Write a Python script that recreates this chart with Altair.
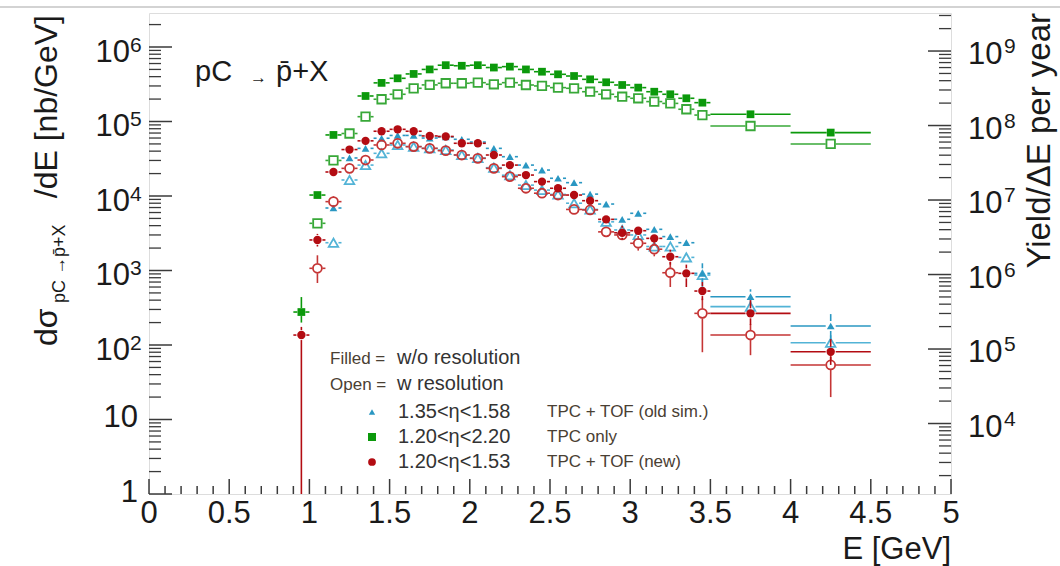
import altair as alt
import pandas as pd

# ---------------- data ----------------
E = [0.95, 1.05, 1.15, 1.25, 1.35, 1.45, 1.55, 1.65, 1.75, 1.85, 1.95, 2.05, 2.15, 2.25,
     2.35, 2.45, 2.55, 2.65, 2.75, 2.85, 2.95, 3.05, 3.15, 3.25, 3.35, 3.45, 3.75, 4.25]
HALF_WIDTH = [0.05] * 26 + [0.25, 0.25]

green_filled = [277, 1.03e4, 6.6e4, None, 2.2e5, 3.3e5, 3.8e5, 4.35e5, 5.0e5, 5.7e5, 5.6e5, 5.7e5,
                5.3e5, 5.45e5, 5.0e5, 4.66e5, 4.3e5, 4.08e5, 3.68e5, 3.36e5, 3.09e5, 2.85e5, 2.51e5,
                2.32e5, 2.05e5, 1.79e5, 1.25e5, 7.1e4]
green_open = [None, 4.3e3, 3.0e4, 6.9e4, 1.16e5, 1.99e5, 2.32e5, 2.79e5, 3.1e5, 3.26e5, 3.26e5,
              3.32e5, 3.16e5, 3.32e5, 3.09e5, 3.0e5, 2.85e5, 2.79e5, 2.51e5, 2.32e5, 2.15e5, 2.05e5,
              1.85e5, 1.75e5, 1.46e5, 1.22e5, 8.7e4, 5.0e4]
red_filled = [136, 2570, 2.1e4, 4.2e4, 5.5e4, 7.4e4, 7.85e4, 7.4e4, 6.4e4, 6.3e4, 5.1e4, 5.1e4,
              3.55e4, 2.6e4, 1.91e4, 1.56e4, 1.27e4, 1.03e4, 8.65e3, 4.86e3, 3.21e3, 3.42e3, 2.7e3,
              1.53e3, 916, 530, 266, 81]
red_open = [None, 1070, 8.4e3, 2.35e4, 3.04e4, 4.84e4, 5.1e4, 4.6e4, 4.36e4, 4.06e4, 3.55e4, 3.2e4,
            2.35e4, 1.82e4, 1.27e4, 1.09e4, 1.03e4, 6.6e3, 6.5e3, 3.3e3, 3.0e3, 2.32e3, 1.93e3, 933,
            None, 266, 136, 54]
cyan_filled = [None, None, 6.9e3, 3.24e4, 4.36e4, 5.96e4, 6.5e4, 6.5e4, 6.0e4, 6.2e4, 5.77e4, 5.3e4,
               4.36e4, 3.37e4, 2.6e4, 2.23e4, 1.73e4, 1.51e4, 1.06e4, 7.8e3, 4.87e3, 5.86e3, 3.57e3,
               2.85e3, 2.36e3, 916, 445, 180]
cyan_open = [None, None, 2.36e3, 1.64e4, 2.6e4, 3.74e4, 4.84e4, 4.6e4, 4.36e4, 4.14e4, 3.55e4, 3.24e4,
             2.4e4, 1.9e4, 1.4e4, 1.2e4, 1.05e4, 8.0e3, 6.6e3, 4.5e3, 3.5e3, 3.0e3, 2.1e3, 2.1e3,
             1.5e3, 870, 327, 107]

# visible vertical error bars: E -> (low, high)
green_filled_err = {0.95: (200, 440)}
green_open_err = {}
red_filled_err = {0.95: (1, 175), 1.05: (2100, 3100), 2.95: (2600, 4000), 3.25: (1200, 1900),
                  3.35: (600, 1200), 3.45: (400, 700), 3.75: (185, 400), 4.25: (54, 120)}
red_open_err = {1.05: (680, 1600), 1.15: (7000, 1.0e4), 3.05: (1850, 2900), 3.15: (1550, 2400),
                3.25: (600, 1300), 3.45: (80, 420), 3.75: (73, 190), 4.25: (20, 80)}
cyan_filled_err = {3.45: (700, 1250), 3.75: (370, 560), 4.25: (117, 260)}
cyan_open_err = {3.45: (600, 1000), 3.75: (260, 400), 4.25: (85, 135)}

LEFT_DECADES = [1, 10, 100, 1e3, 1e4, 1e5, 1e6]
LEFT_EXP = ["", "", "2", "3", "4", "5", "6"]
RIGHT_DECADES = [1e4, 1e5, 1e6, 1e7, 1e8, 1e9]
RIGHT_EXP = ["4", "5", "6", "7", "8", "9"]
X_LABELS = [0, 0.5, 1, 1.5, 2, 2.5, 3, 3.5, 4, 4.5, 5]

# ---------------- layout ----------------
W, H = 802, 481
Y_LEFT = [1, 2.86e6]
Y_RIGHT = [1132, 3.24e9]
FONT = "Liberation Sans"
INK = "#1a1a1a"
BROWN = "#4a4033"

XS = alt.Scale(domain=[0, 5])
YL = alt.Scale(type="log", domain=Y_LEFT)
YR = alt.Scale(type="log", domain=Y_RIGHT)


def xq(f):
    return alt.X(f"{f}:Q", scale=XS, axis=None)


def x2q(f):
    return alt.X2(f"{f}:Q")


def yq(f, sc=YL):
    return alt.Y(f"{f}:Q", scale=sc, axis=None)


def one():
    return alt.Chart(pd.DataFrame({"a": [0]}))


def text(t, x, y, size, color=INK, align="left", angle=0, baseline="middle"):
    return one().mark_text(text=t, fontSize=size, color=color, align=align, angle=angle,
                           baseline=baseline, font=FONT).encode(x=alt.value(x), y=alt.value(y))


series = [
    ("cyan_open", cyan_open, cyan_open_err, "#52b3d6", "triangle-up", False, 90, 5),
    ("cyan_filled", cyan_filled, cyan_filled_err, "#2a97c2", "triangle-up", True, 60, 5),
    ("green_open", green_open, green_open_err, "#38a838", "square", False, 72, 5),
    ("green_filled", green_filled, green_filled_err, "#0b990b", "square", True, 60, 4),
    ("red_open", red_open, red_open_err, "#c53535", "circle", False, 80, 5),
    ("red_filled", red_filled, red_filled_err, "#b30c12", "circle", True, 70, 5),
]

layers = []
# top grey line of the screenshot
layers.append(one().mark_rule(color="#c4c4c4", strokeWidth=1.5).encode(
    x=alt.value(-149), x2=alt.value(911), y=alt.value(-6)))

for name, vals, errs, color, shape, filled, size, gap in series:
    rows = []
    for e, hw, v in zip(E, HALF_WIDTH, vals):
        if v is None:
            continue
        lo, hi = errs.get(e, (None, None))
        rows.append({"E": e, "xlo": e - hw, "xhi": e + hw, "val": v, "lo": lo, "hi": hi})
    df = pd.DataFrame(rows)
    rule_kw = dict(color=color, strokeWidth=1.6, clip=True)
    base = alt.Chart(df)
    layers.append(base.mark_rule(x2Offset=-gap, **rule_kw).encode(x=xq("xlo"), x2=x2q("E"), y=yq("val")))
    layers.append(base.mark_rule(xOffset=gap, **rule_kw).encode(x=xq("E"), x2=x2q("xhi"), y=yq("val")))
    dfe = df.dropna(subset=["lo"])
    if len(dfe):
        be = alt.Chart(dfe)
        layers.append(be.mark_rule(y2Offset=-gap, **rule_kw).encode(
            x=xq("E"), y=yq("hi"), y2=alt.Y2("val:Q")))
        layers.append(be.mark_rule(yOffset=gap, **rule_kw).encode(
            x=xq("E"), y=yq("val"), y2=alt.Y2("lo:Q")))
    if filled:
        pt = base.mark_point(shape=shape, filled=True, size=size, color=color, opacity=1, clip=True)
    else:
        pt = base.mark_point(shape=shape, filled=False, size=size, color=color, strokeWidth=1.8,
                             opacity=1, clip=True)
    layers.append(pt.encode(x=xq("E"), y=yq("val")))

# ---- axis ticks (drawn inward, ROOT style) ----
tick_col = "#3a3a3a"
x_major = pd.DataFrame({"t": X_LABELS})
x_minor = pd.DataFrame({"t": [i / 10 for i in range(51) if i % 5 != 0]})
layers.append(alt.Chart(x_major).mark_rule(color=tick_col, strokeWidth=1.5).encode(
    x=xq("t"), y=alt.value(H), y2=alt.value(H - 15)))
layers.append(alt.Chart(x_minor).mark_rule(color=tick_col, strokeWidth=1.5).encode(
    x=xq("t"), y=alt.value(H), y2=alt.value(H - 8)))

l_major = pd.DataFrame({"t": LEFT_DECADES})
l_minor = pd.DataFrame({"t": [k * d for d in LEFT_DECADES for k in range(2, 10)
                              if k * d <= Y_LEFT[1]]})
layers.append(alt.Chart(l_major).mark_rule(color=tick_col, strokeWidth=1.5).encode(
    y=yq("t"), x=alt.value(0), x2=alt.value(23)))
layers.append(alt.Chart(l_minor).mark_rule(color=tick_col, strokeWidth=1.3).encode(
    y=yq("t"), x=alt.value(0), x2=alt.value(12)))

# ---- left tick labels ----
lab = pd.DataFrame({"t": LEFT_DECADES, "base": ["1", "10"] + ["10"] * 5, "sup": LEFT_EXP})
plain = lab[lab["sup"] == ""]
power = lab[lab["sup"] != ""]
layers.append(alt.Chart(plain).mark_text(align="right", baseline="middle", fontSize=31, font=FONT,
                                         color=INK, dy=-1).encode(
    y=yq("t"), x=alt.value(-11), text="base:N"))
layers.append(alt.Chart(power).mark_text(align="right", baseline="middle", fontSize=31, font=FONT,
                                         color=INK, dy=6).encode(
    y=yq("t"), x=alt.value(-19), text="base:N"))
layers.append(alt.Chart(power).mark_text(align="left", baseline="middle", fontSize=21, font=FONT,
                                         color=INK, dy=-1).encode(
    y=yq("t"), x=alt.value(-19), text="sup:N"))

# ---- x tick labels ----
xl = pd.DataFrame({"t": X_LABELS, "lab": [f"{v:g}" for v in X_LABELS]})
layers.append(alt.Chart(xl).mark_text(align="center", baseline="middle", fontSize=31, font=FONT,
                                      color=INK).encode(
    x=xq("t"), y=alt.value(H + 20), text="lab:N"))

# ---- titles & annotations ----
layers += [
    text("E [GeV]", W, 537, 31, align="right"),
    text("dσ", -92, 333, 32, angle=270, baseline="alphabetic"),
    text("pC →p̄+X", -84, 290, 18, angle=270, baseline="alphabetic"),
    text("/dE [nb/GeV]", -92, 2, 32, angle=270, align="right", baseline="alphabetic"),
    text("Yield/ΔE  per year", 901, 0, 33, angle=270, align="right", baseline="alphabetic"),
    text("pC", 46, 59, 29),
    text("→", 101, 65, 17),
    text("p̄+X", 127, 59, 29),
    text("Filled =", 181, 346, 17, color=BROWN),
    text("w/o resolution", 248, 345, 20, color="#333333"),
    text("Open =", 181, 372, 17, color=BROWN),
    text("w resolution", 248, 371, 20, color="#333333"),
    text("1.35<η<1.58", 249, 399, 20, color="#333333"),
    text("1.20<η<2.20", 249, 424, 20, color="#333333"),
    text("1.20<η<1.53", 249, 449, 20, color="#333333"),
    text("TPC + TOF (old sim.)", 398, 399, 17, color=BROWN),
    text("TPC only", 398, 424, 17, color=BROWN),
    text("TPC + TOF (new)", 398, 449, 17, color=BROWN),
    one().mark_point(shape="triangle-up", filled=True, size=40, color="#2a97c2", opacity=1).encode(
        x=alt.value(223), y=alt.value(399)),
    one().mark_point(shape="square", filled=True, size=64, color="#0b990b", opacity=1).encode(
        x=alt.value(223), y=alt.value(424)),
    one().mark_point(shape="circle", filled=True, size=60, color="#b30c12", opacity=1).encode(
        x=alt.value(223), y=alt.value(449)),
]

left_group = alt.layer(*layers)

# ---- right axis (Yield/ΔE per year) ----
r_major = pd.DataFrame({"t": RIGHT_DECADES})
r_minor = pd.DataFrame({"t": [k * d for d in [1e3] + RIGHT_DECADES for k in range(2, 10)
                              if Y_RIGHT[0] <= k * d <= Y_RIGHT[1]]})
rlab = pd.DataFrame({"t": RIGHT_DECADES, "base": ["10"] * 6, "sup": RIGHT_EXP})
right_group = alt.layer(
    alt.Chart(r_major).mark_rule(color=tick_col, strokeWidth=1.5).encode(
        y=yq("t", YR), x=alt.value(W - 23), x2=alt.value(W)),
    alt.Chart(r_minor).mark_rule(color=tick_col, strokeWidth=1.3).encode(
        y=yq("t", YR), x=alt.value(W - 12), x2=alt.value(W)),
    alt.Chart(rlab).mark_text(align="left", baseline="middle", fontSize=31, font=FONT, color=INK,
                              dy=4).encode(y=yq("t", YR), x=alt.value(W + 17), text="base:N"),
    alt.Chart(rlab).mark_text(align="left", baseline="middle", fontSize=21, font=FONT, color=INK,
                              dy=-4).encode(y=yq("t", YR), x=alt.value(W + 53), text="sup:N"),
)

chart = alt.layer(left_group, right_group).resolve_scale(y="independent").properties(
    width=W, height=H,
    autosize=alt.AutoSizeParams(type="none"),
    padding={"left": 149, "top": 13, "right": 1060 - 149 - W, "bottom": 566 - 13 - H},
    background="white",
).configure_view(stroke="#333333", strokeWidth=2).configure(font=FONT)

chart.save("out.html", embed_options={"renderer": "svg", "actions": False})
